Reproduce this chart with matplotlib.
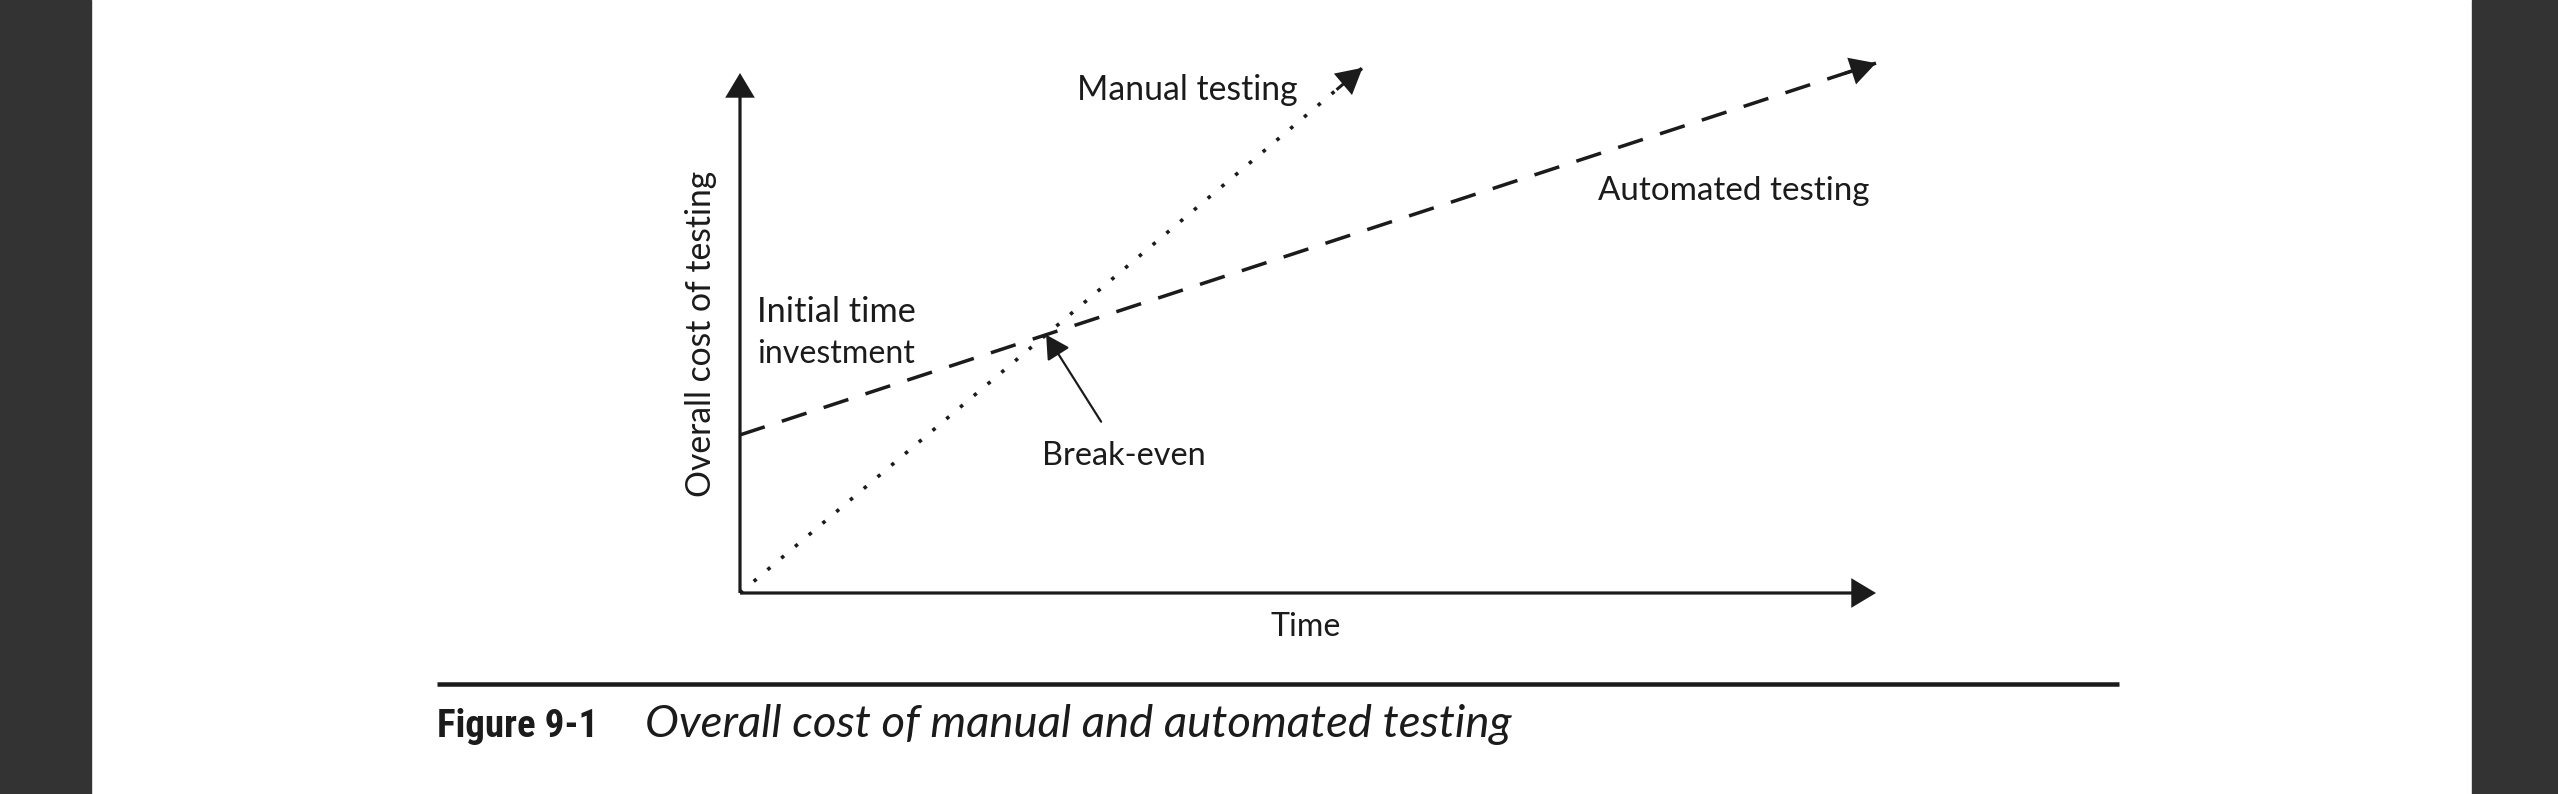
import matplotlib
matplotlib.use('Agg')
import matplotlib.pyplot as plt
from matplotlib.patches import Rectangle
from matplotlib.lines import Line2D
from matplotlib import font_manager
import numpy as np

# ---------------- data ----------------
time_auto = [0.0, 10.0]
cost_auto = [3.04, 10.19]
time_manual = [0.0, 5.48]
cost_manual = [0.0, 10.1]
x_label = "Time"
y_label = "Overall cost of testing"
manual_label = "Manual testing"
auto_label = "Automated testing"
init_lines = ["Initial time", "investment"]
be_label = "Break-even"
fig_num = "Figure 9-1"
caption = "Overall cost of manual and automated testing"

# ---------------- style ----------------
W, H, DPI = 2558, 794, 100
PT = 72.0 / DPI          # points per pixel
ink = '#1b1b1b'
plt.rcParams['font.family'] = ['Lato', 'DejaVu Sans']
plt.rcParams['lines.scale_dashes'] = False

available = {f.name for f in font_manager.fontManager.ttflist}
narrow = None
for cand in ['Liberation Sans Narrow', 'Roboto Condensed', 'Open Sans Condensed',
             'DejaVu Sans Condensed', 'Noto Sans Condensed', 'Arial Narrow']:
    if cand in available:
        narrow = cand
        break

fig = plt.figure(figsize=(W / DPI, H / DPI), dpi=DPI)
fig.patch.set_facecolor('white')


def fx(px):
    return px / W


def fy(py):
    return 1 - py / H


# dark side panels
fig.patches.append(Rectangle((0, 0), fx(91), 1, transform=fig.transFigure,
                             color='#333333', zorder=0))
fig.patches.append(Rectangle((fx(2472), 0), 1 - fx(2472), 1, transform=fig.transFigure,
                             color='#333333', zorder=0))

# axes: origin and arrow tips in pixels
ox, oy, xt, yt = 740, 593, 1876, 73
ax = fig.add_axes([fx(ox), fy(oy), (xt - ox) / W, (oy - yt) / H])
ax.set_xlim(0, 10)
ax.set_ylim(0, 10)
ax.axis('off')


def head_style(length_px, width_px):
    return f'-|>,head_length={length_px * PT:.2f},head_width={width_px / 2 * PT:.2f}'


def arrow(xy, xytext, lw_px, hl=20, hw=24, **kw):
    ax.annotate('', xy=xy, xytext=xytext,
                arrowprops=dict(arrowstyle=head_style(hl, hw), lw=lw_px * PT,
                                color=ink, shrinkA=0, shrinkB=0, mutation_scale=1,
                                joinstyle='miter', capstyle='butt'),
                annotation_clip=False, **kw)


# axis arrows
arrow((10, 0), (0, 0), 3.2)
arrow((0, 10), (0, 0), 3.2)


def back_point(x, y, px_back=34):
    """point px_back pixels before the end of the polyline (x, y)"""
    p1 = ax.transData.transform((x[-2], y[-2]))
    p2 = ax.transData.transform((x[-1], y[-1]))
    d = (p2 - p1) / np.hypot(*(p2 - p1))
    return ax.transData.inverted().transform(p2 - d * px_back)


# automated testing (dashed)
ax.plot(time_auto, cost_auto, color=ink, lw=3.5 * PT, clip_on=False,
        dashes=(26 * PT, 18 * PT), solid_capstyle='butt', dash_capstyle='butt')
arrow((time_auto[-1], cost_auto[-1]), tuple(back_point(time_auto, cost_auto)), 3.0, hl=21, hw=23)

# manual testing (dotted)
ax.plot(time_manual, cost_manual, color=ink, lw=3.6 * PT, clip_on=False,
        dashes=(3.6 * PT, 14.4 * PT), dash_capstyle='butt')
arrow((time_manual[-1], cost_manual[-1]), tuple(back_point(time_manual, cost_manual)), 3.0,
      hl=21, hw=23)

# break-even point = intersection of the two lines
sa = (cost_auto[1] - cost_auto[0]) / (time_auto[1] - time_auto[0])
sm = (cost_manual[1] - cost_manual[0]) / (time_manual[1] - time_manual[0])
tb = (cost_auto[0] - cost_manual[0]) / (sm - sa)
cb = cost_manual[0] + sm * tb
ax.annotate('', xy=(tb, cb), xytext=(55, -87), textcoords='offset pixels',
            arrowprops=dict(arrowstyle=head_style(20, 22), lw=2.2 * PT, color=ink,
                            shrinkA=0, shrinkB=0, mutation_scale=1),
            annotation_clip=False)

# ---------------- texts ----------------
renderer = fig.canvas.get_renderer()


def ftext(x, y, s, target_w=None, size=26, **kw):
    t = fig.text(fx(x), fy(y), s, fontsize=size, color=ink, **kw)
    if target_w is not None:
        bb = t.get_window_extent(renderer)
        w = bb.height if kw.get('rotation', 0) == 90 else bb.width
        t.set_fontsize(size * target_w / w)
    return t


ftext(1187, 100, manual_label, 220, ha='center', va='baseline')
ftext(1870, 200, auto_label, 270, ha='right', va='baseline')
ftext(757, 322, init_lines[0], 158, ha='left', va='baseline')
ftext(757, 363, init_lines[1], 157, ha='left', va='baseline')
ftext(1124, 465, be_label, 163, ha='center', va='baseline')
ftext(1306, 636, x_label, 70, ha='center', va='baseline')
ftext(701, 334, y_label, 326, ha='center', va='center', rotation=90)

# caption rule
fig.lines.append(Line2D([fx(437), fx(2119)], [fy(684), fy(684)], transform=fig.transFigure,
                        color=ink, lw=4.5 * PT, solid_capstyle='butt'))
if narrow is not None:
    ftext(437, 737, fig_num, 161, size=34, ha='left', va='baseline', fontweight='bold',
          family=[narrow, 'DejaVu Sans'])
else:
    ftext(437, 737, fig_num, 178, size=34, ha='left', va='baseline', fontweight='heavy',
          family=['Roboto', 'DejaVu Sans'])
ftext(645, 737, caption, 866, size=34, ha='left', va='baseline', style='italic')

fig.savefig('out.png', dpi=DPI, facecolor=fig.get_facecolor())
